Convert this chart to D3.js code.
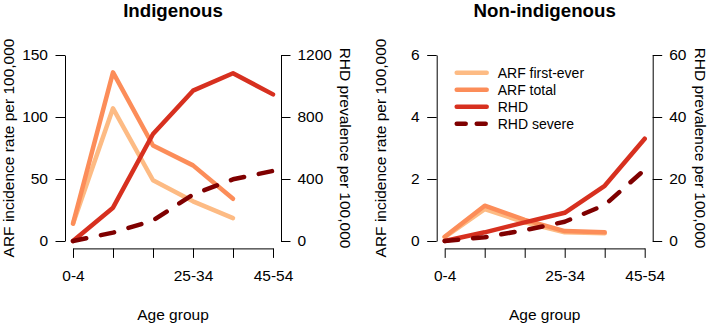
<!DOCTYPE html>
<html>
<head>
<meta charset="utf-8">
<script src="https://cdn.jsdelivr.net/npm/d3@7"></script>
<style>
  body { margin: 0; background: #fff; }
  svg { display: block; font-family: "Liberation Sans", Arial, sans-serif; }
</style>
</head>
<body>
<svg id="chart" width="709" height="327"></svg>
<script>
// age groups on the x axis, only some get a printed label
const ageGroups = ["0-4", "5-14", "15-24", "25-34", "35-44", "45-54"];
const shownAgeLabels = ["0-4", "25-34", "45-54"];

// Indigenous
const indigArfFirst = [14, 107, 49, 32, 18.5];
const indigArfTotal = [14, 136, 77, 61, 34];
const indigRhd = [0, 215, 690, 970, 1082, 946];
const indigRhdSevere = [0, 54, 132, 300, 398, 452];
const indigArfTicks = [0, 50, 100, 150];
const indigRhdTicks = [0, 400, 800, 1200];

// Non-indigenous
const nonArfFirst = [0.12, 1.03, 0.6, 0.28, 0.25];
const nonArfTotal = [0.14, 1.14, 0.68, 0.32, 0.28];
const nonRhd = [0, 2.8, 6, 9.1, 17.8, 33];
const nonRhdSevere = [0, 1.2, 3.5, 6.2, 11.6, 23];
const nonArfTicks = [0, 2, 4, 6];
const nonRhdTicks = [0, 20, 40, 60];

const legendLabels = ["ARF first-ever", "ARF total", "RHD", "RHD severe"];
const colors = ["#fdbb84", "#fc8d59", "#d7301f", "#7f0000"];

const svg = d3.select("#chart");
const fontSize = "15.5px";

function drawPanel(left, title, arfTicks, rhdTicks, series, rightTitleGap, showLegend) {
    const plotW = 216;
    const axisY = 248.4;
    const g = svg.append("g").attr("transform", `translate(${left},0)`);

    const x = d3.scalePoint().domain(ageGroups).range([8, plotW - 8]);
    const yArf = d3.scaleLinear().domain([0, d3.max(arfTicks)]).range([241, 55]);
    const yRhd = d3.scaleLinear().domain([0, d3.max(rhdTicks)]).range([241, 55]);

    // X axis
    const xAxis = g.append("g")
        .attr("transform", `translate(0,${axisY})`)
        .call(d3.axisBottom(x).tickSize(9.5).tickSizeOuter(0).tickPadding(12)
            .tickFormat(d => shownAgeLabels.includes(d) ? d : ""));

    // left axis
    const lAxis = g.append("g")
        .call(d3.axisLeft(yArf).tickValues(arfTicks).tickFormat(d => String(d))
            .tickSize(9.5).tickSizeOuter(0).tickPadding(7.5));

    // right axis
    const rAxis = g.append("g")
        .attr("transform", `translate(${plotW},0)`)
        .call(d3.axisRight(yRhd).tickValues(rhdTicks).tickFormat(d => String(d))
            .tickSize(9.5).tickSizeOuter(0).tickPadding(7));

    [xAxis, lAxis, rAxis].forEach(a => {
        a.selectAll("path, line").attr("stroke", "#000").attr("stroke-width", 1);
        a.selectAll("text").attr("fill", "#000").style("font-size", fontSize)
            .style("font-family", "Liberation Sans, Arial, sans-serif");
    });
    xAxis.selectAll("text").attr("dy", "0.71em");

    // lines
    series.forEach((s, k) => {
        const y = s.axis === "arf" ? yArf : yRhd;
        const line = d3.line().x((d, i) => x(ageGroups[i])).y(d => y(d));
        g.append("path")
            .datum(s.values)
            .attr("d", line)
            .attr("fill", "none")
            .attr("stroke", colors[k])
            .attr("stroke-width", 4.5)
            .attr("stroke-linecap", "round")
            .attr("stroke-linejoin", "round")
            .attr("stroke-dasharray", s.dashed ? "13.5,15" : null);
    });

    // title
    g.append("text")
        .attr("x", plotW / 2)
        .attr("y", 17)
        .attr("text-anchor", "middle")
        .style("font-size", "18.7px")
        .style("font-weight", "bold")
        .text(title);

    // axis labels
    g.append("text")
        .attr("x", plotW / 2)
        .attr("y", 320)
        .attr("text-anchor", "middle")
        .style("font-size", fontSize)
        .text("Age group");

    g.append("text")
        .attr("transform", `translate(-51,148) rotate(-90)`)
        .attr("text-anchor", "middle")
        .style("font-size", fontSize)
        .text("ARF incidence rate per 100,000");

    g.append("text")
        .attr("transform", `translate(${plotW + rightTitleGap},148) rotate(90)`)
        .attr("text-anchor", "middle")
        .style("font-size", fontSize)
        .text("RHD prevalence per 100,000");

    if (showLegend) {
        const lg = g.append("g").attr("transform", "translate(20,72.7)");
        legendLabels.forEach((lab, k) => {
            const row = lg.append("g").attr("transform", `translate(0,${k * 17})`);
            row.append("line")
                .attr("x1", 0).attr("x2", 30)
                .attr("stroke", colors[k])
                .attr("stroke-width", 4.5)
                .attr("stroke-linecap", "round")
                .attr("stroke-dasharray", k === 3 ? "9,11" : null);
            row.append("text")
                .attr("x", 41)
                .attr("dy", "0.35em")
                .style("font-size", "14px")
                .text(lab);
        });
    }
}

drawPanel(65, "Indigenous", indigArfTicks, indigRhdTicks, [
    {values: indigArfFirst, axis: "arf"},
    {values: indigArfTotal, axis: "arf"},
    {values: indigRhd, axis: "rhd"},
    {values: indigRhdSevere, axis: "rhd", dashed: true}
], 58.5, false);

drawPanel(436.7, "Non-indigenous", nonArfTicks, nonRhdTicks, [
    {values: nonArfFirst, axis: "arf"},
    {values: nonArfTotal, axis: "arf"},
    {values: nonRhd, axis: "rhd"},
    {values: nonRhdSevere, axis: "rhd", dashed: true}
], 42.5, true);
</script>
</body>
</html>
